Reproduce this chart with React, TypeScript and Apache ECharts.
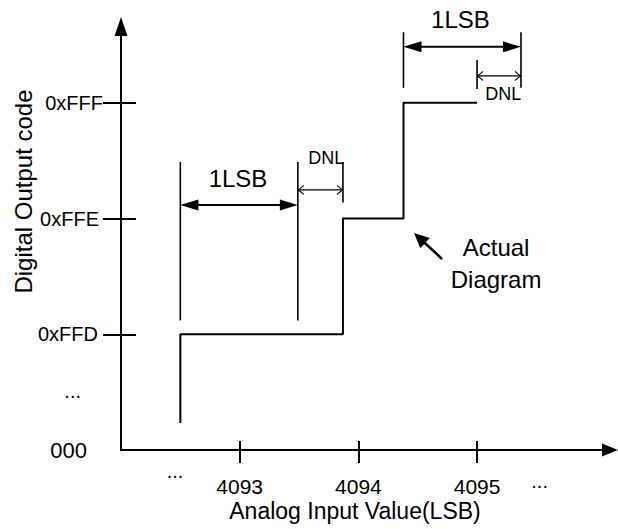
import React, { useEffect, useRef } from "react";
import * as echarts from "echarts";

const FONT = "'Liberation Sans', Arial, Helvetica, sans-serif";
const INK = "#000";

// Axis ranges (x in LSB, y in code steps: 0 = 000, 1 = 0xFFD, 2 = 0xFFE, 3 = 0xFFF)
const xMin = 4092;
const xMax = 4096.12;
const yMin = 0;
const yMax = 3.66;

const xTickValues = [4093, 4094, 4095];
const xLabelValues = [4092.455, 4093, 4094, 4095, 4095.527];
const xLabelTexts = ["...", "4093", "4094", "4095", "..."];

const yTickValues = [1, 2, 3];
const yLabelValues = [0, 0.51, 1, 2, 3];
const yLabelTexts = ["000", "...", "0xFFD", "0xFFE", "0xFFF"];

// Actual transfer staircase
const stepEdges = [4092.5, 4093.87, 4094.38, 4095];
const stepLevels = [1, 2, 3];
const stepStart = 0.233;

// Dimension annotations: [x, yFrom, yTo]
const extensionLines = [
  [4092.5, 1.12, 2.49],
  [4093.49, 1.12, 2.49],
  [4093.87, 2.14, 2.49],
  [4094.38, 3.13, 3.61],
  [4095.37, 3.13, 3.61],
  [4095.0, 3.12, 3.37],
];
// [xFrom, xTo, y]
const lsbArrows = [
  [4092.5, 4093.49, 2.118],
  [4094.38, 4095.37, 3.484],
];
const dnlArrows = [
  [4093.49, 4093.87, 2.248],
  [4095.0, 4095.37, 3.233],
];
// [xTail, yTail, xTip, yTip]
const pointerArrows = [[4094.705, 1.651, 4094.469, 1.876]];

const noteTexts = ["1LSB", "DNL", "1LSB", "DNL", "Actual", "Diagram"];
const noteX = [4092.986, 4093.73, 4094.86, 4095.22, 4095.16, 4095.16];
const noteY = [2.343, 2.52, 3.72, 3.08, 1.746, 1.47];

function buildStepData() {
  const pts: number[][] = [[stepEdges[0], stepStart]];
  for (let i = 0; i < stepLevels.length; i++) {
    pts.push([stepEdges[i], stepLevels[i]]);
    pts.push([stepEdges[i + 1], stepLevels[i]]);
  }
  return pts;
}

function findIndex(arr: number[], v: number) {
  for (let i = 0; i < arr.length; i++) if (Math.abs(arr[i] - v) < 1e-6) return i;
  return -1;
}

const xLabelFormatter = (v: number) => {
  const i = findIndex(xLabelValues, v);
  return i < 0 ? "" : xLabelTexts[i];
};

const lastX = xLabelValues.length - 1;

const yRich: Record<string, any> = {
  s0: { fontSize: 22, fontFamily: FONT, color: INK, padding: [0, 16, 0, 0] },
  s1: { fontSize: 20, fontFamily: FONT, color: INK, padding: [0, 22, 0, 0] },
  s2: { fontSize: 20, fontFamily: FONT, color: INK, padding: [0, 5, 0, 0] },
  s3: { fontSize: 20, fontFamily: FONT, color: INK, padding: [0, 4, 0, 0] },
  s4: { fontSize: 20, fontFamily: FONT, color: INK, padding: [0, 0, 0, 0] },
};

const baseX = { type: "value", min: xMin, max: xMax, position: "bottom", splitLine: { show: false } };
const baseY = { type: "value", min: yMin, max: yMax, position: "left", splitLine: { show: false } };

const buildOption = () => ({
  animation: false,
  backgroundColor: "#fff",
  grid: { left: 121, top: 26.5, right: 8, bottom: 79, outerBoundsMode: "none" },
  xAxis: [
    {
      ...baseX,
      axisLine: {
        show: true,
        onZero: false,
        symbol: ["none", "triangle"],
        symbolSize: [13, 16],
        lineStyle: { color: INK, width: 2 },
      },
      axisTick: {
        show: true,
        customValues: xTickValues,
        length: 13,
        lineStyle: { color: INK, width: 2 },
      },
      axisLabel: {
        show: true,
        customValues: xLabelValues.slice(1, lastX),
        margin: 28,
        formatter: xLabelFormatter,
        color: INK,
        fontSize: 21,
        fontFamily: FONT,
        lineHeight: 16,
      },
    },
    {
      ...baseX,
      axisLine: { show: false, onZero: false },
      axisTick: {
        show: true,
        inside: true,
        customValues: xTickValues,
        length: 9,
        lineStyle: { color: INK, width: 2 },
      },
      axisLabel: {
        show: true,
        customValues: [xLabelValues[0]],
        margin: 11,
        formatter: xLabelFormatter,
        color: INK,
        fontSize: 20,
        fontFamily: FONT,
        lineHeight: 20,
      },
    },
    {
      ...baseX,
      axisLine: { show: false, onZero: false },
      axisTick: { show: false },
      axisLabel: {
        show: true,
        customValues: [xLabelValues[lastX]],
        margin: 21,
        formatter: xLabelFormatter,
        color: INK,
        fontSize: 20,
        fontFamily: FONT,
        lineHeight: 20,
      },
    },
  ],
  yAxis: [
    {
      ...baseY,
      axisLine: {
        show: true,
        onZero: false,
        symbol: ["none", "triangle"],
        symbolSize: [13, 19],
        lineStyle: { color: INK, width: 2 },
      },
      axisTick: {
        show: true,
        customValues: yTickValues,
        length: 18,
        lineStyle: { color: INK, width: 2 },
      },
      axisLabel: {
        show: true,
        customValues: yLabelValues,
        margin: 18,
        formatter: (v: number) => {
          const i = findIndex(yLabelValues, v);
          if (i < 0) return "";
          return `{s${i}|${yLabelTexts[i]}}`;
        },
        rich: yRich,
      },
    },
    {
      ...baseY,
      axisLine: { show: false, onZero: false },
      axisTick: {
        show: true,
        inside: true,
        customValues: yTickValues,
        length: 15,
        lineStyle: { color: INK, width: 2 },
      },
      axisLabel: { show: false },
    },
  ],
  graphic: [
    {
      type: "text",
      x: 23,
      y: 191.5,
      rotation: Math.PI / 2,
      silent: true,
      style: {
        text: "Digital Output code",
        fill: INK,
        fontSize: 24,
        fontFamily: FONT,
        lineHeight: 20,
        align: "center",
        verticalAlign: "middle",
      },
    },
    {
      type: "text",
      x: 355,
      y: 511,
      silent: true,
      style: {
        text: "Analog Input Value(LSB)",
        fill: INK,
        fontSize: 23,
        fontFamily: FONT,
        lineHeight: 18,
        align: "center",
        verticalAlign: "middle",
      },
    },
  ],
  series: [
    {
      type: "line",
      data: buildStepData(),
      showSymbol: false,
      symbol: "none",
      silent: true,
      lineStyle: { color: INK, width: 2 },
    },
    {
      type: "custom",
      silent: true,
      clip: false,
      data: extensionLines,
      renderItem: (params: any, api: any) => {
        const a = api.coord([api.value(0), api.value(1)]);
        const b = api.coord([api.value(0), api.value(2)]);
        return {
          type: "line",
          shape: { x1: a[0], y1: a[1], x2: b[0], y2: b[1] },
          style: { stroke: INK, lineWidth: 1.6 },
        };
      },
    },
    {
      type: "custom",
      silent: true,
      clip: false,
      data: lsbArrows,
      renderItem: (params: any, api: any) => {
        const a = api.coord([api.value(0), api.value(2)]);
        const b = api.coord([api.value(1), api.value(2)]);
        const hl = 18;
        const hw = 5.5;
        const y = a[1];
        return {
          type: "group",
          children: [
            {
              type: "line",
              shape: { x1: a[0] + hl - 1, y1: y, x2: b[0] - hl + 1, y2: y },
              style: { stroke: INK, lineWidth: 2 },
            },
            {
              type: "polygon",
              shape: { points: [[a[0], y], [a[0] + hl, y - hw], [a[0] + hl, y + hw]] },
              style: { fill: INK },
            },
            {
              type: "polygon",
              shape: { points: [[b[0], y], [b[0] - hl, y - hw], [b[0] - hl, y + hw]] },
              style: { fill: INK },
            },
          ],
        };
      },
    },
    {
      type: "custom",
      silent: true,
      clip: false,
      data: dnlArrows,
      renderItem: (params: any, api: any) => {
        const a = api.coord([api.value(0), api.value(2)]);
        const b = api.coord([api.value(1), api.value(2)]);
        const hl = 6;
        const hw = 4.5;
        const y = a[1];
        return {
          type: "group",
          children: [
            {
              type: "line",
              shape: { x1: a[0], y1: y, x2: b[0], y2: y },
              style: { stroke: INK, lineWidth: 1.2 },
            },
            {
              type: "polyline",
              shape: { points: [[a[0] + hl, y - hw], [a[0] + 0.5, y], [a[0] + hl, y + hw]] },
              style: { stroke: INK, lineWidth: 1.2, fill: null },
            },
            {
              type: "polyline",
              shape: { points: [[b[0] - hl, y - hw], [b[0] - 0.5, y], [b[0] - hl, y + hw]] },
              style: { stroke: INK, lineWidth: 1.2, fill: null },
            },
          ],
        };
      },
    },
    {
      type: "custom",
      silent: true,
      clip: false,
      data: pointerArrows,
      renderItem: (params: any, api: any) => {
        const t = api.coord([api.value(0), api.value(1)]);
        const h = api.coord([api.value(2), api.value(3)]);
        const dx = h[0] - t[0];
        const dy = h[1] - t[1];
        const len = Math.sqrt(dx * dx + dy * dy);
        const ux = dx / len;
        const uy = dy / len;
        const hl = 15;
        const hw = 7;
        const bx = h[0] - ux * hl;
        const by = h[1] - uy * hl;
        return {
          type: "group",
          children: [
            {
              type: "line",
              shape: { x1: t[0], y1: t[1], x2: bx + ux * 2, y2: by + uy * 2 },
              style: { stroke: INK, lineWidth: 2.5 },
            },
            {
              type: "polygon",
              shape: {
                points: [
                  [h[0], h[1]],
                  [bx - uy * hw, by + ux * hw],
                  [bx + uy * hw, by - ux * hw],
                ],
              },
              style: { fill: INK },
            },
          ],
        };
      },
    },
    {
      type: "custom",
      silent: true,
      clip: false,
      data: noteX.map((x, i) => [x, noteY[i]]),
      renderItem: (params: any, api: any) => {
        const p = api.coord([api.value(0), api.value(1)]);
        const text = noteTexts[params.dataIndex];
        return {
          type: "text",
          x: p[0],
          y: p[1],
          style: {
            text,
            fill: INK,
            fontSize: text === "DNL" ? 18 : 24,
            fontFamily: FONT,
            align: "center",
            verticalAlign: "middle",
          },
        };
      },
    },
  ],
});

export default function App() {
  const ref = useRef<HTMLDivElement>(null);
  useEffect(() => {
    if (!ref.current) return;
    const chart = echarts.init(ref.current, null, { renderer: "svg" });
    chart.setOption(buildOption() as any);
    return () => chart.dispose();
  }, []);
  return (
    <div
      ref={ref}
      style={{ position: "absolute", left: 0, top: 0, width: 618, height: 529, background: "#fff" }}
    />
  );
}
